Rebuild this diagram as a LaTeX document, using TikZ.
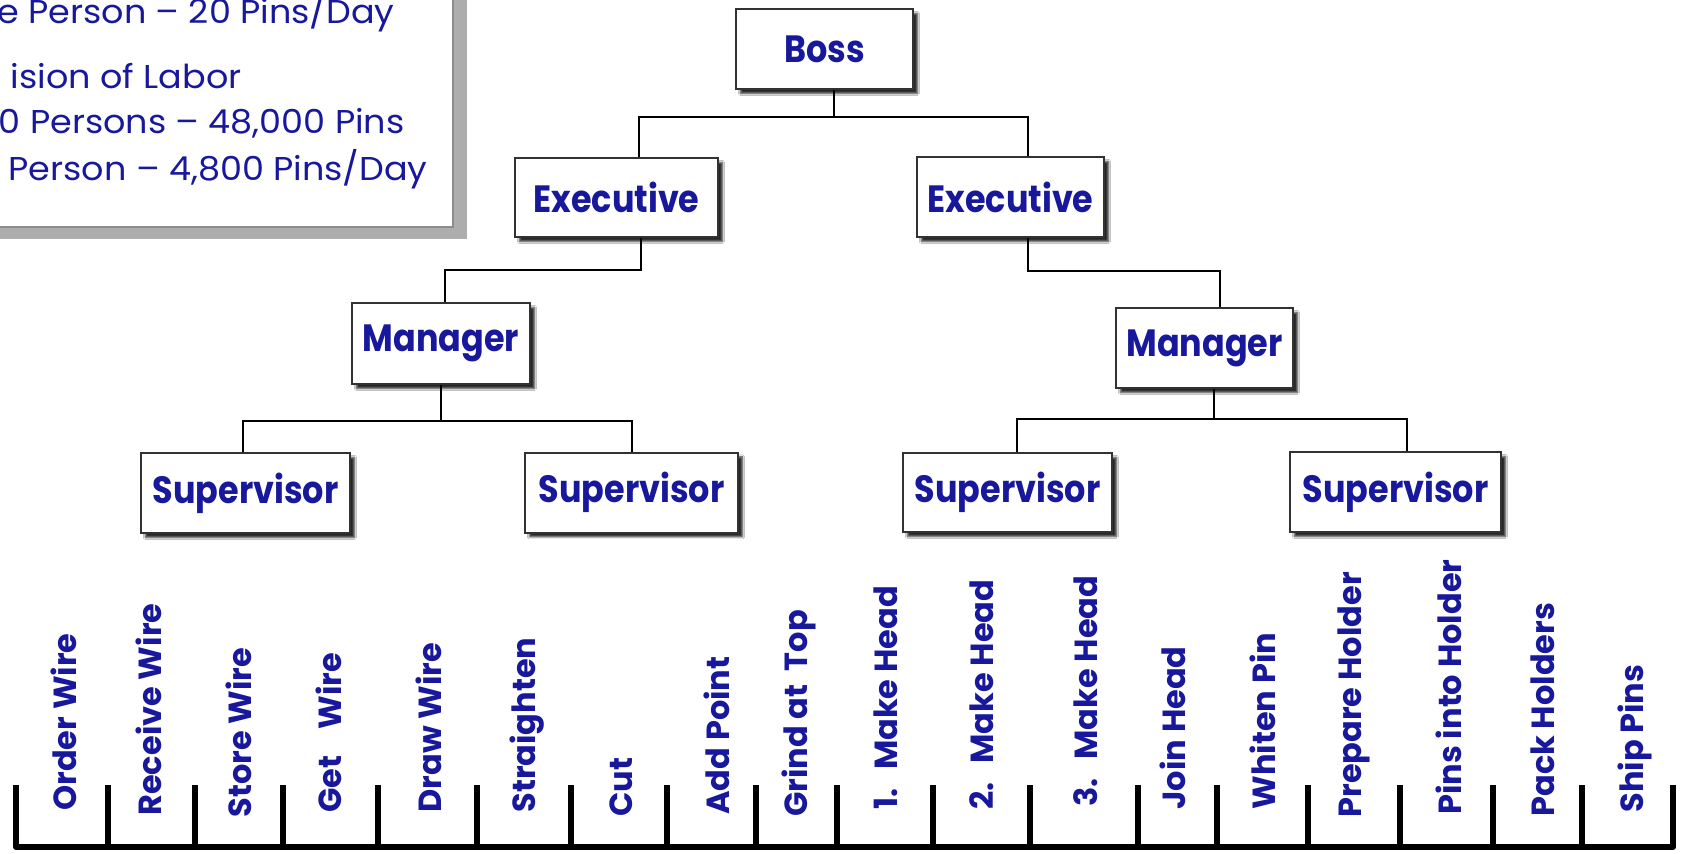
\documentclass[tikz,border=0pt]{standalone}
\usepackage{fontspec}
\setmainfont{Poppins}
\newfontfamily\boxfont[FakeStretch=0.88]{Poppins}
\newfontfamily\infofont[FakeStretch=1.06]{Poppins}
\usetikzlibrary{shadows,shadows.blur}
\definecolor{txtblue}{RGB}{24,24,156}
\definecolor{edgegray}{RGB}{50,50,50}
\tikzset{
  box/.style={draw=edgegray, line width=1pt, fill=white, inner sep=0pt,
    text=txtblue, font=\boxfont\bfseries\fontsize{19}{21}\selectfont,
    blur shadow={shadow xshift=2.2pt, shadow yshift=-2.2pt, shadow blur radius=1pt, shadow opacity=85}},
  lbl/.style={rotate=90, anchor=base west, inner sep=0pt, text=txtblue,
    font=\bfseries\fontsize{16}{18}\selectfont},
  link/.style={draw=black, line width=1.25pt},
  info/.style={anchor=base east, inner sep=0pt, text=txtblue,
    font=\infofont\fontsize{16.5}{18}\selectfont},
  rail/.style={line width=3pt, draw=black},
}
\begin{document}
\begin{tikzpicture}[x=0.5pt,y=-0.5pt]
\path[use as bounding box, clip] (0,0) rectangle (1681,853);
\fill[white] (0,0) rectangle (1681,853);

% info box (cut off at top-left)
\fill[black!32] (-20,-20) rectangle (467,239);
\filldraw[fill=white, draw=black!45, line width=0.6pt] (-20,-20) rectangle (453,227);
\node[info] (t1) at (395,23) {e Person – 20 Pins/Day};
\node[info] (t2) at (242,88) {ision of Labor};
\node[info] (t3) at (405,133) {0 Persons – 48,000 Pins};
\node[info] (t4) at (428,180) {Person – 4,800 Pins/Day};

% hierarchy
\node[box, minimum width=88.5pt, minimum height=40pt] (boss) at (824.5,49) {Boss};
\node[box, minimum width=101.5pt, minimum height=39.5pt] (execL) at (616.5,197.5) {Executive};
\node[box, minimum width=93.5pt, minimum height=40pt] (execR) at (1010.5,197) {Executive};
\node[box, minimum width=89pt, minimum height=40.5pt] (mgrL) at (441,343.5) {Manager};
\node[box, minimum width=88.5pt, minimum height=40pt] (mgrR) at (1204.5,348) {Manager};
\node[box, minimum width=104.5pt, minimum height=40pt] (supA) at (245.5,493) {Supervisor};
\node[box, minimum width=106.5pt, minimum height=40pt] (supB) at (631.5,492.5) {Supervisor};
\node[box, minimum width=104.5pt, minimum height=39.5pt] (supC) at (1007.5,492.5) {Supervisor};
\node[box, minimum width=105.5pt, minimum height=40pt] (supD) at (1395.5,492) {Supervisor};

% connectors
\coordinate (j0) at (834,117);
\coordinate (b1) at (639,117);
\coordinate (b2) at (1028,117);
\draw[link] (boss.south -| j0) -- (j0);
\draw[link] (execL.north -| b1) -- (b1) -- (b2) -- (execR.north -| b2);

\coordinate (c1) at (641,270);
\coordinate (c2) at (445,270);
\draw[link] (execL.south -| c1) -- (c1) -- (c2) -- (mgrL.north -| c2);

\coordinate (d1) at (1028,271);
\coordinate (d2) at (1220,271);
\draw[link] (execR.south -| d1) -- (d1) -- (d2) -- (mgrR.north -| d2);

\coordinate (e0) at (441,421);
\coordinate (e1) at (243,421);
\coordinate (e2) at (632,421);
\draw[link] (mgrL.south -| e0) -- (e0);
\draw[link] (supA.north -| e1) -- (e1) -- (e2) -- (supB.north -| e2);

\coordinate (f0) at (1214,419);
\coordinate (f1) at (1017,419);
\coordinate (f2) at (1407,419);
\draw[link] (mgrR.south -| f0) -- (f0);
\draw[link] (supC.north -| f1) -- (f1) -- (f2) -- (supD.north -| f2);

% task rail
\draw[rail, line join=round] (16,785) -- (16,847) -- (1673,847) -- (1673,785);
\foreach \tx in {108,195,283,378,477,571,667,756,837,933,1030,1138,1217,1308,1400,1493,1582}
  \draw[rail] (\tx,785) -- (\tx,847);

% task labels
\node[lbl] (k1) at (76,811) {Order Wire};
\node[lbl] (k2) at (161,816) {Receive Wire};
\node[lbl] (k3) at (251,818) {Store Wire};
\node[lbl] (k4) at (341,813) {Get\hspace{0.6em} Wire};
\node[lbl] (k5) at (441,813) {Draw Wire};
\node[lbl] (k6) at (535,813) {Straighten};
\node[lbl] (k7) at (632,817) {Cut};
\node[lbl] (k8) at (729,815) {Add Point};
\node[lbl] (k9) at (807,817) {Grind at\hspace{0.2em} Top};
\node[lbl] (k10) at (897,810) {1.\hspace{0.3em} Make Head};
\node[lbl] (k11) at (993,810) {2.\hspace{0.3em} Make Head};
\node[lbl] (k12) at (1097,807) {3.\hspace{0.3em} Make Head};
\node[lbl] (k13) at (1185,810) {Join Head};
\node[lbl] (k14) at (1275,810) {Whiten Pin};
\node[lbl] (k15) at (1361,818) {Prepare Holder};
\node[lbl] (k16) at (1461,815) {Pins into Holder};
\node[lbl] (k17) at (1554,817) {Pack Holders};
\node[lbl] (k18) at (1643,813) {Ship Pins};
\end{tikzpicture}
\end{document}
